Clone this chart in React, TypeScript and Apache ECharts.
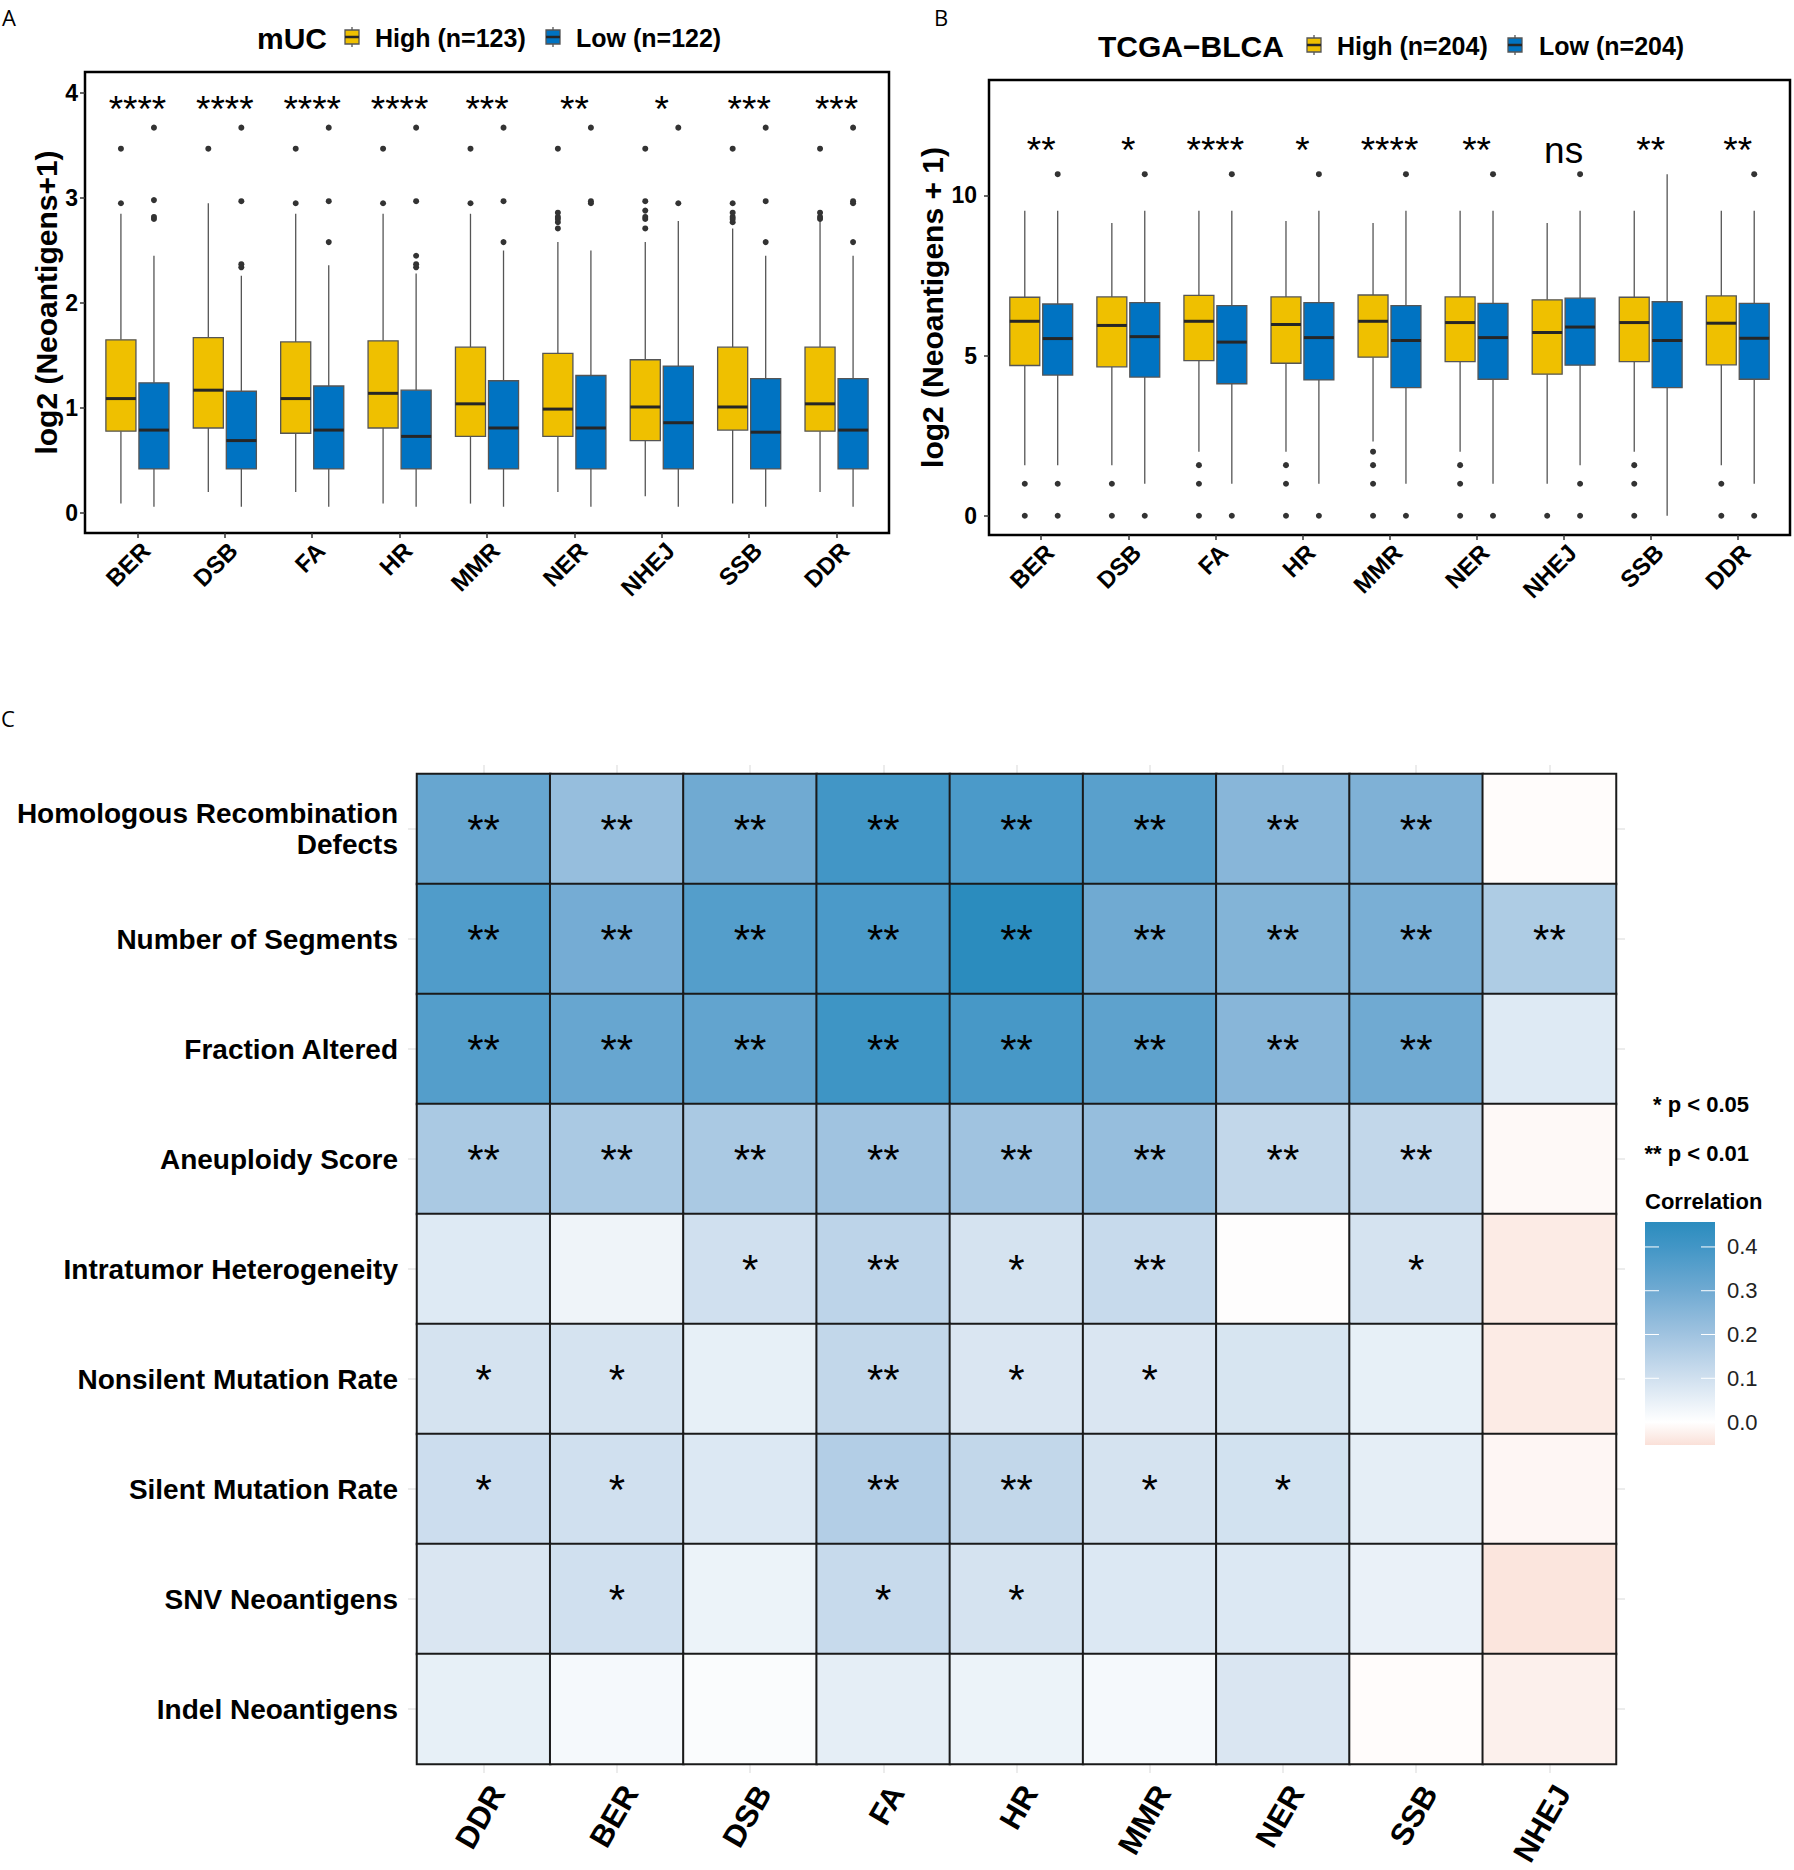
import React, { useEffect, useRef } from "react";
import * as echarts from "echarts";

const FONT = "'Liberation Sans', Arial, Helvetica, sans-serif";
const W = 1794;
const H = 1870;

// ---------- Panels A & B: boxplots ----------
const boxCategories = ["BER", "DSB", "FA", "HR", "MMR", "NER", "NHEJ", "SSB", "DDR"];

// [lower whisker, Q1, median, Q3, upper whisker]
const mucHighStats = [
  [0.09, 0.78, 1.09, 1.65, 2.85],
  [0.2, 0.81, 1.17, 1.67, 2.95],
  [0.2, 0.76, 1.09, 1.63, 2.85],
  [0.09, 0.81, 1.14, 1.64, 2.85],
  [0.09, 0.73, 1.04, 1.58, 2.85],
  [0.2, 0.73, 0.99, 1.52, 2.58],
  [0.16, 0.69, 1.01, 1.46, 2.58],
  [0.09, 0.79, 1.01, 1.58, 2.71],
  [0.2, 0.78, 1.04, 1.58, 2.78],
];
const mucLowStats = [
  [0.06, 0.42, 0.79, 1.24, 2.45],
  [0.06, 0.42, 0.69, 1.16, 2.26],
  [0.06, 0.42, 0.79, 1.21, 2.36],
  [0.06, 0.42, 0.73, 1.17, 2.28],
  [0.06, 0.42, 0.81, 1.26, 2.5],
  [0.06, 0.42, 0.81, 1.31, 2.5],
  [0.06, 0.42, 0.86, 1.4, 2.78],
  [0.06, 0.42, 0.77, 1.28, 2.45],
  [0.06, 0.42, 0.79, 1.28, 2.45],
];
const mucHighOutliers = [
  [2.95, 3.47],
  [3.47],
  [2.95, 3.47],
  [2.95, 3.47],
  [2.95, 3.47],
  [2.71, 2.77, 2.8, 2.82, 2.86, 3.47],
  [2.71, 2.8, 2.82, 2.88, 2.97, 3.47],
  [2.77, 2.8, 2.82, 2.86, 2.95, 3.47],
  [2.8, 2.82, 2.86, 3.47],
];
const mucLowOutliers = [
  [2.8, 2.82, 2.98, 3.67],
  [2.34, 2.37, 2.97, 3.67],
  [2.58, 2.97, 3.67],
  [2.34, 2.37, 2.45, 2.97, 3.67],
  [2.58, 2.97, 3.67],
  [2.95, 2.97, 3.67],
  [2.95, 3.67],
  [2.58, 2.97, 3.67],
  [2.58, 2.95, 2.97, 3.67],
];
const mucSignif = ["****", "****", "****", "****", "***", "**", "*", "***", "***"];

const tcgaHighStats = [
  [1.58, 4.69, 6.07, 6.82, 9.52],
  [1.58, 4.65, 5.94, 6.83, 9.14],
  [2.0, 4.84, 6.07, 6.88, 9.52],
  [2.0, 4.76, 5.97, 6.83, 9.2],
  [2.32, 4.95, 6.07, 6.89, 9.14],
  [2.0, 4.81, 6.03, 6.83, 9.52],
  [1.0, 4.42, 5.72, 6.74, 9.14],
  [2.0, 4.81, 6.03, 6.82, 9.52],
  [1.58, 4.71, 6.01, 6.86, 9.52],
];
const tcgaLowStats = [
  [1.58, 4.39, 5.53, 6.61, 9.52],
  [1.0, 4.33, 5.59, 6.65, 9.52],
  [1.0, 4.12, 5.42, 6.56, 9.52],
  [1.0, 4.24, 5.56, 6.65, 9.52],
  [1.0, 4.0, 5.47, 6.56, 9.52],
  [1.0, 4.26, 5.56, 6.63, 9.52],
  [1.58, 4.7, 5.89, 6.79, 9.52],
  [0.0, 4.0, 5.47, 6.68, 10.66],
  [1.0, 4.26, 5.54, 6.63, 9.52],
];
const tcgaHighOutliers = [
  [0, 1],
  [0, 1],
  [0, 1, 1.58],
  [0, 1, 1.58],
  [0, 1, 1.58, 2.0],
  [0, 1, 1.58],
  [0],
  [0, 1, 1.58],
  [0, 1],
];
const tcgaLowOutliers = [
  [0, 1, 10.66],
  [0, 10.66],
  [0, 10.66],
  [0, 10.66],
  [0, 10.66],
  [0, 10.66],
  [0, 1, 10.66],
  [],
  [0, 10.66],
];
const tcgaSignif = ["**", "*", "****", "*", "****", "**", "ns", "**", "**"];

const mucTicks = [0, 1, 2, 3, 4];
const tcgaTicks = [0, 5, 10];

// ---------- Panel C: heatmap ----------
const heatCols = ["DDR", "BER", "DSB", "FA", "HR", "MMR", "NER", "SSB", "NHEJ"];
const heatRows = [
  "Homologous Recombination\nDefects",
  "Number of Segments",
  "Fraction Altered",
  "Aneuploidy Score",
  "Intratumor Heterogeneity",
  "Nonsilent Mutation Rate",
  "Silent Mutation Rate",
  "SNV Neoantigens",
  "Indel Neoantigens",
];
const corrHRD = [0.32, 0.22, 0.3, 0.4, 0.38, 0.35, 0.25, 0.27, -0.005];
const corrSegments = [0.37, 0.29, 0.36, 0.38, 0.457, 0.3, 0.26, 0.28, 0.17];
const corrFraction = [0.36, 0.32, 0.33, 0.41, 0.39, 0.34, 0.25, 0.3, 0.07];
const corrAneuploidy = [0.18, 0.18, 0.18, 0.2, 0.2, 0.22, 0.13, 0.13, -0.01];
const corrITH = [0.07, 0.035, 0.1, 0.14, 0.09, 0.12, 0.0, 0.09, -0.035];
const corrNonsilent = [0.09, 0.09, 0.05, 0.13, 0.08, 0.08, 0.085, 0.05, -0.035];
const corrSilent = [0.11, 0.1, 0.075, 0.16, 0.13, 0.09, 0.095, 0.055, -0.015];
const corrSNV = [0.08, 0.1, 0.04, 0.12, 0.09, 0.075, 0.075, 0.045, -0.045];
const corrIndel = [0.05, 0.02, 0.01, 0.055, 0.04, 0.02, 0.08, -0.005, -0.025];
const corrRows = [corrHRD, corrSegments, corrFraction, corrAneuploidy, corrITH, corrNonsilent, corrSilent, corrSNV, corrIndel];

const starHRD = ["**", "**", "**", "**", "**", "**", "**", "**", ""];
const starSegments = ["**", "**", "**", "**", "**", "**", "**", "**", "**"];
const starFraction = ["**", "**", "**", "**", "**", "**", "**", "**", ""];
const starAneuploidy = ["**", "**", "**", "**", "**", "**", "**", "**", ""];
const starITH = ["", "", "*", "**", "*", "**", "", "*", ""];
const starNonsilent = ["*", "*", "", "**", "*", "*", "", "", ""];
const starSilent = ["*", "*", "", "**", "**", "*", "*", "", ""];
const starSNV = ["", "*", "", "*", "*", "", "", "", ""];
const starIndel = ["", "", "", "", "", "", "", "", ""];
const starRows = [starHRD, starSegments, starFraction, starAneuploidy, starITH, starNonsilent, starSilent, starSNV, starIndel];

const corrLegendTicks = [0.0, 0.1, 0.2, 0.3, 0.4];
const CMIN = -0.0524;
const CMAX = 0.457;
// colour anchors [value, r, g, b]
const rampAnchors = [
  [CMIN, 250, 224, 216],
  [0.0, 255, 255, 255],
  [0.1, 208, 224, 239],
  [0.2, 160, 195, 224],
  [0.3, 112, 170, 210],
  [0.4, 66, 150, 198],
  [CMAX, 43, 140, 190],
];

const YELLOW = "#EFC000";
const BLUE = "#0073C2";
const OFFSET = 0.189;
const HALF = 0.172;

function rampColor(v: number): string {
  const a = rampAnchors;
  if (v <= a[0][0]) return `rgb(${a[0][1]},${a[0][2]},${a[0][3]})`;
  for (let i = 1; i < a.length; i++) {
    if (v <= a[i][0]) {
      const t = (v - a[i - 1][0]) / (a[i][0] - a[i - 1][0]);
      const c = [1, 2, 3].map((k) => Math.round(a[i - 1][k] + t * (a[i][k] - a[i - 1][k])));
      return `rgb(${c[0]},${c[1]},${c[2]})`;
    }
  }
  const l = a[a.length - 1];
  return `rgb(${l[1]},${l[2]},${l[3]})`;
}

function boxSeries(name: string, stats: number[][], offset: number, fill: string, xi: number, yi: number) {
  return {
    type: "custom",
    name,
    xAxisIndex: xi,
    yAxisIndex: yi,
    silent: true,
    dimensions: ["x", "lo", "q1", "med", "q3", "hi"],
    encode: { x: 0, y: [1, 2, 3, 4, 5] },
    data: stats.map((s, i) => [i + 1, ...s]),
    renderItem: (params: any, api: any) => {
      const cx = api.value(0) + offset;
      const lo = api.value(1);
      const q1 = api.value(2);
      const med = api.value(3);
      const q3 = api.value(4);
      const hi = api.value(5);
      const pHi = api.coord([cx, hi]);
      const pQ3 = api.coord([cx, q3]);
      const pQ1 = api.coord([cx, q1]);
      const pLo = api.coord([cx, lo]);
      const tl = api.coord([cx - HALF, q3]);
      const br = api.coord([cx + HALF, q1]);
      const mL = api.coord([cx - HALF, med]);
      const mR = api.coord([cx + HALF, med]);
      const ws = { stroke: "#555555", lineWidth: 1.3 };
      return {
        type: "group",
        children: [
          { type: "line", shape: { x1: pHi[0], y1: pHi[1], x2: pQ3[0], y2: pQ3[1] }, style: ws },
          { type: "line", shape: { x1: pQ1[0], y1: pQ1[1], x2: pLo[0], y2: pLo[1] }, style: ws },
          {
            type: "rect",
            shape: { x: tl[0], y: tl[1], width: br[0] - tl[0], height: br[1] - tl[1] },
            style: { fill, stroke: "#555555", lineWidth: 1.3 },
          },
          { type: "line", shape: { x1: mL[0], y1: mL[1], x2: mR[0], y2: mR[1] }, style: { stroke: "#262626", lineWidth: 3 } },
        ],
      };
    },
  };
}

function outlierSeries(outs: number[][], offset: number, xi: number, yi: number) {
  const data: number[][] = [];
  outs.forEach((arr, i) => arr.forEach((v) => data.push([i + 1 + offset, v])));
  return {
    type: "scatter",
    xAxisIndex: xi,
    yAxisIndex: yi,
    silent: true,
    symbolSize: 6,
    itemStyle: { color: "#333333", opacity: 1 },
    data,
  };
}

function signifSeries(labels: string[], yVal: number, xi: number, yi: number) {
  return {
    type: "custom",
    xAxisIndex: xi,
    yAxisIndex: yi,
    silent: true,
    encode: { x: 0, y: 1 },
    data: labels.map((l, i) => [i + 1, yVal]),
    renderItem: (params: any, api: any) => {
      const p = api.coord([api.value(0), api.value(1)]);
      return {
        type: "text",
        x: p[0],
        y: p[1],
        style: {
          text: labels[params.dataIndex],
          fill: "#000",
          font: `37px ${FONT}`,
          textAlign: "center",
          textVerticalAlign: "middle",
        },
      };
    },
  };
}

function valueXAxis(gridIndex: number) {
  return {
    type: "value",
    gridIndex,
    min: 0.4,
    max: 9.6,
    axisLine: { show: false, onZero: false },
    splitLine: { show: false },
    axisTick: { show: true, customValues: [1, 2, 3, 4, 5, 6, 7, 8, 9], length: 5, lineStyle: { color: "#333", width: 1.5 } },
    axisLabel: {
      customValues: [1, 2, 3, 4, 5, 6, 7, 8, 9],
      formatter: (v: number) => boxCategories[Math.round(v) - 1],
      rotate: 45,
      margin: 5,
      verticalAlign: "top",
      fontFamily: FONT,
      fontWeight: "bold",
      fontSize: 24,
      color: "#000",
    },
  };
}

function valueYAxis(gridIndex: number, min: number, max: number, ticks: number[], name: string, nameGap: number, margin: number) {
  return {
    type: "value",
    gridIndex,
    min,
    max,
    name,
    nameLocation: "middle",
    nameRotate: 90,
    nameGap,
    nameTextStyle: { fontFamily: FONT, fontWeight: "bold", fontSize: 30, color: "#000" },
    axisLine: { show: false, onZero: false },
    splitLine: { show: false },
    axisTick: { show: true, customValues: ticks, length: 5, lineStyle: { color: "#333", width: 1.5 } },
    axisLabel: { customValues: ticks, margin, fontFamily: FONT, fontWeight: "bold", fontSize: 23, color: "#000" },
  };
}

function legendIcon(x: number, cy: number, fill: string) {
  return {
    type: "group",
    children: [
      { type: "line", shape: { x1: x + 7, y1: cy - 10, x2: x + 7, y2: cy + 10 }, style: { stroke: "#555", lineWidth: 1.3 } },
      { type: "rect", shape: { x, y: cy - 7, width: 14, height: 14 }, style: { fill, stroke: "#555", lineWidth: 1.3 } },
      { type: "line", shape: { x1: x, y1: cy, x2: x + 14, y2: cy }, style: { stroke: "#262626", lineWidth: 2.5 } },
    ],
  };
}

function txt(text: string, x: number, y: number, font: string, align = "left", fill = "#000") {
  return { type: "text", x, y, style: { text, font, fill, textAlign: align, textVerticalAlign: "middle" } };
}

function buildOption() {
  const heatData: any[] = [];
  corrRows.forEach((row, r) => row.forEach((v, c) => heatData.push([c, r, v])));

  const rampColors: string[] = [];
  const N = 64;
  for (let i = 0; i < N; i++) rampColors.push(rampColor(CMIN + ((CMAX - CMIN) * i) / (N - 1)));

  // legend bar for correlation
  const barX = 1645;
  const barY = 1222;
  const barW = 70;
  const barH = 223;
  const valToY = (v: number) => barY + ((CMAX - v) / (CMAX - CMIN)) * barH;
  const gradStops = rampAnchors
    .map((a) => ({ offset: (CMAX - a[0]) / (CMAX - CMIN), color: `rgb(${a[1]},${a[2]},${a[3]})` }))
    .sort((p, q) => p.offset - q.offset);

  const legendGraphics: any[] = [
    {
      type: "rect",
      shape: { x: barX, y: barY, width: barW, height: barH },
      style: { fill: new echarts.graphic.LinearGradient(0, 0, 0, 1, gradStops) },
    },
  ];
  corrLegendTicks.forEach((v) => {
    const y = valToY(v);
    legendGraphics.push({ type: "line", shape: { x1: barX, y1: y, x2: barX + 14, y2: y }, style: { stroke: "#fff", lineWidth: 1 } });
    legendGraphics.push({ type: "line", shape: { x1: barX + barW - 14, y1: y, x2: barX + barW, y2: y }, style: { stroke: "#fff", lineWidth: 1 } });
    legendGraphics.push(txt(v.toFixed(1), barX + barW + 12, y, `22px ${FONT}`, "left", "#222"));
  });

  const boldT = `bold 30px ${FONT}`;
  const boldL = `bold 25px ${FONT}`;
  const letter = `22px 'Open Sans', ${FONT}`;

  const graphic: any[] = [
    txt("A", 2, 17, letter),
    txt("B", 934, 17, letter),
    txt("C", 1, 718, letter),
    txt("mUC", 257, 38, boldT),
    legendIcon(345, 37, YELLOW),
    txt("High (n=123)", 375, 38, boldL),
    legendIcon(546, 37, BLUE),
    txt("Low (n=122)", 576, 38, boldL),
    txt("TCGA\u2212BLCA", 1098, 46, boldT),
    legendIcon(1307, 45, YELLOW),
    txt("High (n=204)", 1337, 46, boldL),
    legendIcon(1508, 45, BLUE),
    txt("Low (n=204)", 1539, 46, boldL),
    txt("* p < 0.05", 1749, 1104, `bold 22px ${FONT}`, "right"),
    txt("** p < 0.01", 1749, 1153, `bold 22px ${FONT}`, "right"),
    txt("Correlation", 1645, 1201, `bold 22px ${FONT}`),
    ...legendGraphics,
  ];

  const faintTick = { show: true, alignWithLabel: true, length: 9, lineStyle: { color: "#E6E6E6", width: 1.5 } };

  const series: any[] = [
    boxSeries("High", mucHighStats, -OFFSET, YELLOW, 0, 0),
    boxSeries("Low", mucLowStats, OFFSET, BLUE, 0, 0),
    outlierSeries(mucHighOutliers, -OFFSET, 0, 0),
    outlierSeries(mucLowOutliers, OFFSET, 0, 0),
    signifSeries(mucSignif, 3.84, 0, 0),
    boxSeries("High", tcgaHighStats, -OFFSET, YELLOW, 1, 1),
    boxSeries("Low", tcgaLowStats, OFFSET, BLUE, 1, 1),
    outlierSeries(tcgaHighOutliers, -OFFSET, 1, 1),
    outlierSeries(tcgaLowOutliers, OFFSET, 1, 1),
    signifSeries(tcgaSignif, 11.39, 1, 1),
  ];
  const heatIndex = series.length;
  series.push({
    type: "heatmap",
    xAxisIndex: 2,
    yAxisIndex: 2,
    data: heatData,
    silent: true,
    itemStyle: { borderColor: "#1a1a1a", borderWidth: 2 },
    emphasis: { disabled: true },
    label: {
      show: true,
      formatter: (p: any) => starRows[p.value[1]][p.value[0]],
      fontFamily: FONT,
      fontSize: 42,
      color: "#000",
    },
  });

  return {
    animation: false,
    backgroundColor: "#ffffff",
    graphic,
    visualMap: {
      show: false,
      type: "continuous",
      seriesIndex: heatIndex,
      dimension: 2,
      min: CMIN,
      max: CMAX,
      inRange: { color: rampColors },
    },
    grid: [
      { left: 85, top: 72, width: 804, height: 461, show: true, borderColor: "#000", borderWidth: 2.5, backgroundColor: "transparent" },
      { left: 989, top: 80, width: 801, height: 455, show: true, borderColor: "#000", borderWidth: 2.5, backgroundColor: "transparent" },
      { left: 417, top: 774, width: 1199, height: 990 },
    ],
    xAxis: [
      valueXAxis(0),
      valueXAxis(1),
      {
        type: "category",
        gridIndex: 2,
        data: heatCols,
        position: "bottom",
        axisLine: { show: false },
        axisTick: faintTick,
        splitLine: { show: false },
        axisLabel: {
          rotate: 60,
          margin: 16,
          verticalAlign: "top",
          fontFamily: FONT,
          fontWeight: "bold",
          fontSize: 31,
          color: "#000",
        },
      },
      {
        type: "category",
        gridIndex: 2,
        data: heatCols,
        position: "top",
        axisLine: { show: false },
        axisTick: faintTick,
        axisLabel: { show: false },
      },
    ],
    yAxis: [
      valueYAxis(0, -0.19, 4.2, mucTicks, "log2 (Neoantigens+1)", 22, 7),
      valueYAxis(1, -0.6, 13.6, tcgaTicks, "log2 (Neoantigens + 1)", 22, 12),
      {
        type: "category",
        gridIndex: 2,
        data: heatRows,
        inverse: true,
        position: "left",
        axisLine: { show: false },
        axisTick: faintTick,
        axisLabel: { margin: 19, fontFamily: FONT, fontWeight: "bold", fontSize: 28, lineHeight: 31, color: "#000", align: "right" },
      },
      {
        type: "category",
        gridIndex: 2,
        data: heatRows,
        inverse: true,
        position: "right",
        axisLine: { show: false },
        axisTick: faintTick,
        axisLabel: { show: false },
      },
    ],
    series,
  };
}

export default function App() {
  const ref = useRef<HTMLDivElement>(null);
  useEffect(() => {
    document.body.style.margin = "0";
    const chart = echarts.init(ref.current as HTMLDivElement, null, { renderer: "svg" });
    chart.setOption(buildOption() as any);
    return () => chart.dispose();
  }, []);
  return <div ref={ref} style={{ width: W, height: H, background: "#fff" }} />;
}
